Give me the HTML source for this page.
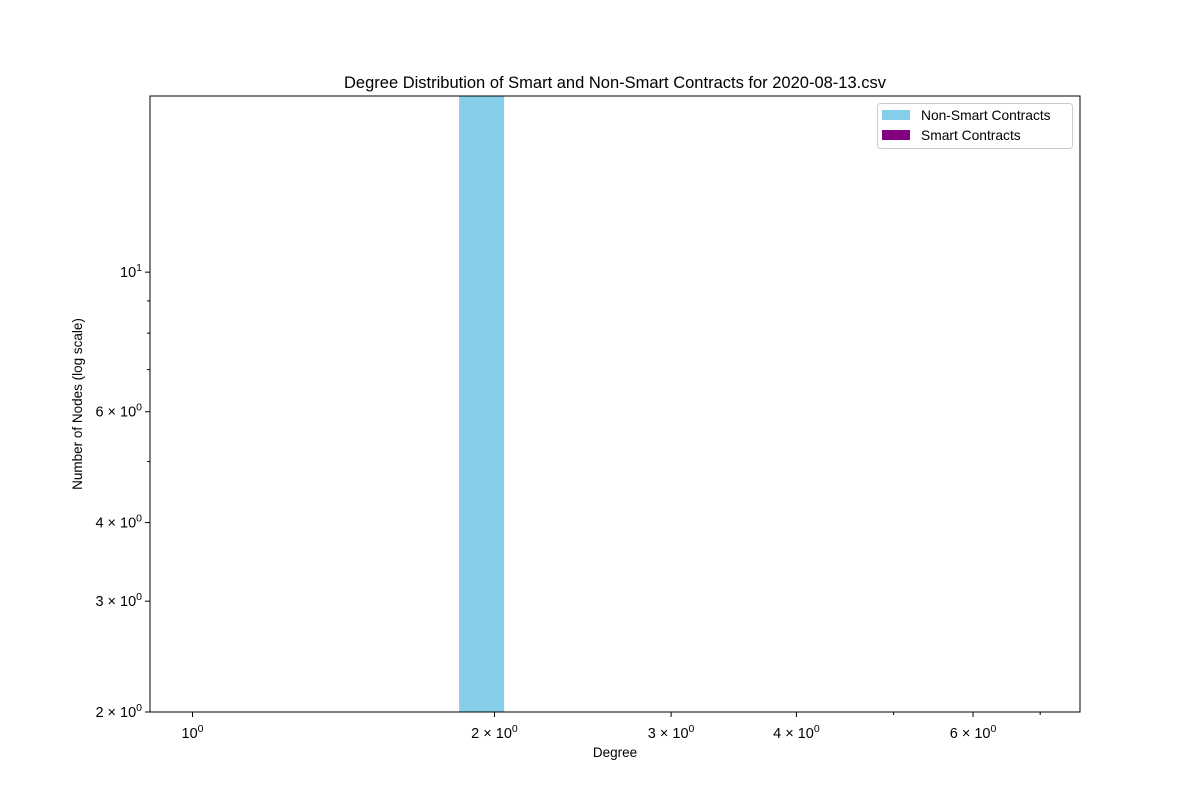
<!DOCTYPE html><html><head><meta charset="utf-8"><style>body{margin:0;background:#fff}text{font-family:"Liberation Sans","DejaVu Sans",sans-serif;fill:#000}</style></head><body>
<svg id="c" width="1200" height="800"></svg>
<script>
const degrees=[1.844];
const degreeEdges=[2.045];
const nonSmartCounts=[20];
const smartCounts=[0];
const xTicks=[1,2,3,4,6];
const xTickLabels=["0","2","3","4","6"];
const yTicks=[10,6,4,3,2];
const yTickLabels=["1","6","4","3","2"];
const X0=150,X1=1080,Y0=96,Y1=712,xmin=0.907,xmax=7.67,ymin=2,ymax=19.05;
const L=Math.log10;
const sx=v=>X0+(L(v)-L(xmin))/(L(xmax)-L(xmin))*(X1-X0);
const sy=v=>Y1-(L(v)-L(ymin))/(L(ymax)-L(ymin))*(Y1-Y0);
const s=document.getElementById('c');const NS='http://www.w3.org/2000/svg';
function mk(t,a,p){const e=document.createElementNS(NS,t);for(const k in a)e.setAttribute(k,a[k]);(p||s).appendChild(e);return e;}
const defs=mk('defs',{});const cp=mk('clipPath',{id:'cp'},defs);mk('rect',{x:X0,y:Y0,width:X1-X0,height:Y1-Y0},cp);
const g=mk('g',{'clip-path':'url(#cp)'});
degrees.forEach((d,i)=>{const b=mk('rect',{x:sx(d),y:sy(nonSmartCounts[i]),width:sx(degreeEdges[i])-sx(d),height:Y1-sy(nonSmartCounts[i]),fill:'#87ceeb'},g);


if(smartCounts[i]>ymin){const m=mk('rect',{x:sx(d),y:sy(smartCounts[i]),width:sx(degreeEdges[i])-sx(d),height:Y1-sy(smartCounts[i]),fill:'#800080'},g);

}});
const fr=mk('rect',{x:X0,y:Y0,width:X1-X0,height:Y1-Y0,fill:'none',stroke:'#000','stroke-width':1});


xTicks.forEach((v,i)=>{const x=sx(v);mk('line',{x1:x,x2:x,y1:Y1,y2:Y1+5,stroke:'#000'});
const t=mk('text',{x:x,y:Y1+26,'font-size':14.5,'text-anchor':'middle'});


t.innerHTML=(v===1?'':v+' \u00d7 ')+'10<tspan dy="-6" font-size="10.5">0</tspan>';});
[5,7].forEach(v=>{const x=sx(v);mk('line',{x1:x,x2:x,y1:Y1,y2:Y1+3,stroke:'#000'});});
yTicks.forEach((v,i)=>{const y=sy(v);mk('line',{x1:X0-5,x2:X0,y1:y,y2:y,stroke:'#000'});
const t=mk('text',{x:X0-8,y:y+5,'font-size':14.5,'text-anchor':'end'});


t.innerHTML=(v===10?'10<tspan dy="-6" font-size="10.5">1</tspan>':v+' \u00d7 10<tspan dy="-6" font-size="10.5">0</tspan>');});
[5,7,8,9].forEach(v=>{const y=sy(v);mk('line',{x1:X0-3,x2:X0,y1:y,y2:y,stroke:'#000'});});
</script>
<svg style="position:absolute;left:0;top:0" width="1200" height="800">
<text x="615" y="88" font-size="16.5" text-anchor="middle">Degree Distribution of Smart and Non-Smart Contracts for 2020-08-13.csv</text>
<text x="615" y="757" font-size="13.5" text-anchor="middle">Degree</text>
<text x="82" y="404" font-size="13.5" text-anchor="middle" transform="rotate(-90 82 404)">Number of Nodes (log scale)</text>
<g>
<rect x="877.5" y="103.5" width="195" height="45" rx="3" fill="#fff" stroke="#ccc"/>
<rect x="882" y="110" width="28" height="10" fill="#87ceeb"/>
<text x="921" y="120" font-size="13.8">Non-Smart Contracts</text>
<rect x="882" y="130" width="28" height="10" fill="#800080"/>
<text x="921" y="140" font-size="13.8">Smart Contracts</text>
</g></svg>
</body></html>
